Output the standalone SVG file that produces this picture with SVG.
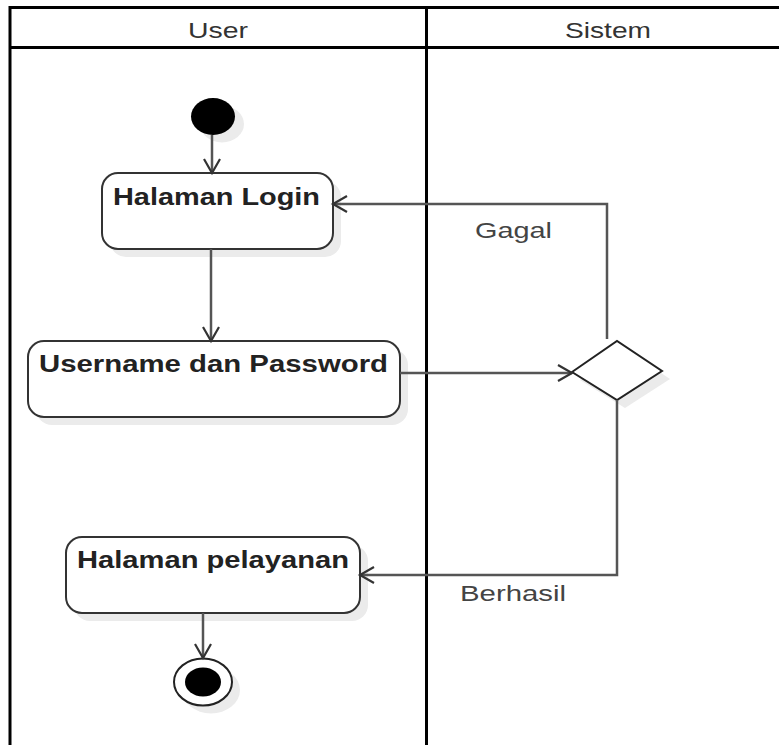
<svg xmlns="http://www.w3.org/2000/svg" width="779" height="745" viewBox="0 0 779 745">
<defs>
<style>
.lane{fill:none;stroke:#000;stroke-width:3}
.hdr{font-family:"Liberation Sans",Arial,sans-serif;font-size:22px;fill:#333;text-anchor:middle}
.box{fill:#fff;stroke:#333;stroke-width:2}
.shadow{fill:#ebebeb;stroke:none}
.lbl{font-family:"Liberation Sans",Arial,sans-serif;font-size:23px;font-weight:bold;fill:#222}
.elbl{font-family:"Liberation Sans",Arial,sans-serif;font-size:22px;fill:#444}
.edge{fill:none;stroke:#555;stroke-width:2.5;marker-end:url(#arr)}
</style>
<marker id="arr" markerUnits="userSpaceOnUse" markerWidth="30" markerHeight="30" viewBox="-20 -15 30 30" refX="0" refY="0" orient="auto">
<path d="M-14,-8 L0,0 L-14,8" fill="none" stroke="#333" stroke-width="2.2"/>
</marker>
</defs>
<rect width="779" height="745" fill="#fff"/>
<g id="lanes">
<path class="lane" d="M10,745 V7.5 H790 M10,47.5 H790 M426.5,7.5 V745"/>
<text class="hdr" x="218" y="38" textLength="60" lengthAdjust="spacingAndGlyphs">User</text>
<text class="hdr" x="608" y="38" textLength="86" lengthAdjust="spacingAndGlyphs">Sistem</text>
</g>
<g id="start">
<ellipse class="shadow" cx="222" cy="124" rx="22" ry="18.5"/>
<ellipse cx="213" cy="116.5" rx="22" ry="18.5" fill="#000"/>
</g>
<g id="halaman-login">
<rect class="shadow" x="110" y="181" width="231" height="76" rx="16"/>
<rect class="box" x="102" y="173" width="231" height="76" rx="16"/>
<text class="lbl" x="113" y="205" textLength="207" lengthAdjust="spacingAndGlyphs">Halaman Login</text>
</g>
<g id="username-password">
<rect class="shadow" x="36" y="349" width="372" height="76" rx="16"/>
<rect class="box" x="28" y="341" width="372" height="76" rx="16"/>
<text class="lbl" x="39" y="372" textLength="349" lengthAdjust="spacingAndGlyphs">Username dan Password</text>
</g>
<g id="decision">
<polygon class="shadow" points="580,380 625,349 670,379 625,408"/>
<polygon points="572,372 617,341 662,371 617,400" fill="#fff" stroke="#222" stroke-width="2"/>
</g>
<g id="halaman-pelayanan">
<rect class="shadow" x="74" y="545" width="294" height="76" rx="16"/>
<rect class="box" x="66" y="537" width="294" height="76" rx="16"/>
<text class="lbl" x="77" y="568" textLength="272" lengthAdjust="spacingAndGlyphs">Halaman pelayanan</text>
</g>
<g id="end">
<ellipse class="shadow" cx="211" cy="690" rx="29" ry="23.5"/>
<ellipse cx="203" cy="682" rx="29" ry="23.5" fill="#fff" stroke="#222" stroke-width="2"/>
<ellipse cx="203" cy="682" rx="18" ry="14.5" fill="#000"/>
</g>
<g id="connectors">
<path class="edge" d="M212,135 V173"/>
<path class="edge" d="M211,249 V341"/>
<path class="edge" d="M400,373 H572"/>
<path class="edge" d="M607,339 V204 H333"/>
<path class="edge" d="M617,400 V575 H360"/>
<path class="edge" d="M203,613 V658"/>
<text class="elbl" x="475" y="238" textLength="77" lengthAdjust="spacingAndGlyphs">Gagal</text>
<text class="elbl" x="460" y="601" textLength="106" lengthAdjust="spacingAndGlyphs">Berhasil</text>
</g>
</svg>
